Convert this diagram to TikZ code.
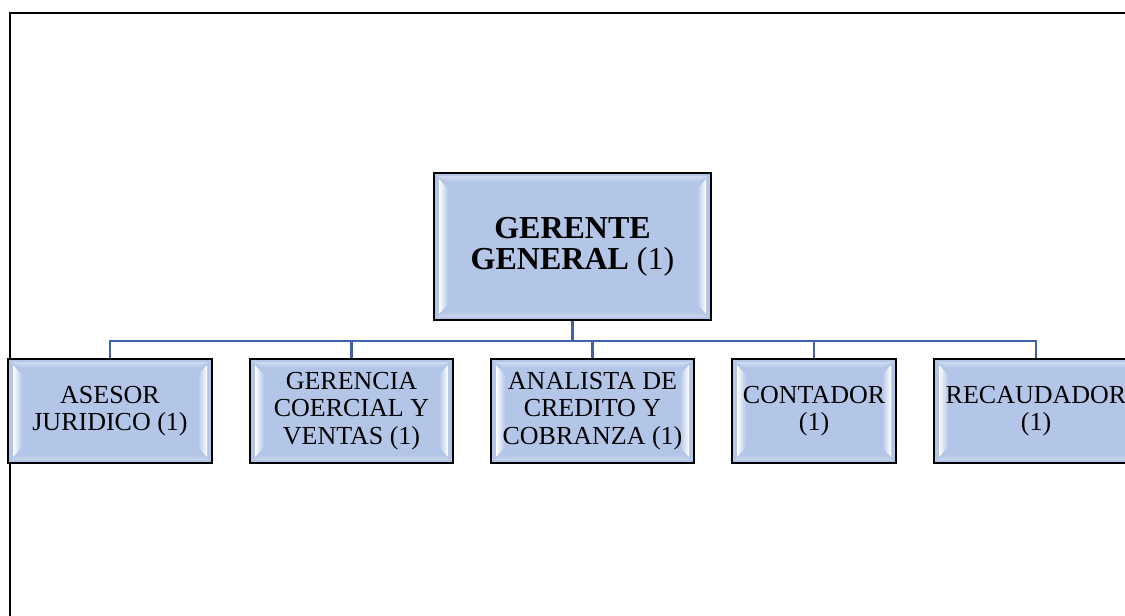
\documentclass[tikz,border=0pt]{standalone}
\usepackage{fontspec}
\setmainfont{Liberation Serif}
\usetikzlibrary{calc}
\definecolor{boxblue}{HTML}{B4C6E7}
\definecolor{linkblue}{HTML}{3F62A8}
\tikzset{
  bevel/.style={path picture={
    \coordinate (pNW) at (path picture bounding box.north west);
    \coordinate (pNE) at (path picture bounding box.north east);
    \coordinate (pSW) at (path picture bounding box.south west);
    \coordinate (pSE) at (path picture bounding box.south east);
    \shade[top color=white!35!boxblue, bottom color=boxblue]
      ($(pNW)+(3,3)$) -- ($(pNE)+(-3,3)$) -- ($(pNE)+(-14,9)$) -- ($(pNW)+(14,9)$) -- cycle;
    \shade[bottom color=white!30!boxblue, top color=boxblue]
      ($(pSW)+(3,-3)$) -- ($(pSE)+(-3,-3)$) -- ($(pSE)+(-14,-9)$) -- ($(pSW)+(14,-9)$) -- cycle;
    \shade[left color=white, right color=boxblue]
      ($(pNW)+(5,6)$) -- ($(pNW)+(14,16)$) -- ($(pSW)+(14,-16)$) -- ($(pSW)+(5,-6)$) -- cycle;
    \shade[right color=white, left color=boxblue]
      ($(pNE)+(-5,6)$) -- ($(pNE)+(-14,16)$) -- ($(pSE)+(-14,-16)$) -- ($(pSE)+(-5,-6)$) -- cycle;
  }},
  orgbox/.style={draw=black, line width=2pt, fill=boxblue, inner sep=0pt,
    align=center, bevel, minimum height=104pt,
    font=\fontsize{26}{27.5}\selectfont},
  topbox/.style={orgbox, minimum width=277pt, minimum height=147pt,
    font=\fontsize{32}{31}\selectfont},
  link/.style={draw=linkblue, line width=2.2pt},
  frameline/.style={draw=black, line width=2pt},
}
\begin{document}
\begin{tikzpicture}[x=1pt, y=-1pt]
  \useasboundingbox (0,0) rectangle (1125,616);
  \clip (0,0) rectangle (1125,616);
  \fill[white] (0,0) rectangle (1125,616);
  \draw[frameline] (10,618) -- (10,13) -- (1127,13);

  \node[topbox] (ger) at (572.5,246.5) {\textbf{GERENTE}\\\textbf{GENERAL} (1)};

  \node[orgbox, minimum width=204pt] (ase) at (110,411) {ASESOR\\JURIDICO (1)};
  \node[orgbox, minimum width=203pt] (gcv) at (351.5,411) {GERENCIA\\COERCIAL Y\\VENTAS (1)};
  \node[orgbox, minimum width=203pt] (acc) at (592.5,411) {ANALISTA DE\\CREDITO Y\\COBRANZA (1)};
  \node[orgbox, minimum width=164pt] (con) at (814,411) {CONTADOR\\(1)};
  \node[orgbox, minimum width=204pt] (rec) at (1036,411) {RECAUDADOR\\(1)};

  \coordinate (bus) at (573,341);
  \draw[link, line width=3.2pt] (ger.south) -- (ger.south |- bus);
  \draw[link] (ase.north) -- (ase.north |- bus) -- (rec.north |- bus) -- (rec.north);
  \foreach \n in {gcv, acc, con} {
    \draw[link] (\n.north |- bus) -- (\n.north);
  }
\end{tikzpicture}
\end{document}
